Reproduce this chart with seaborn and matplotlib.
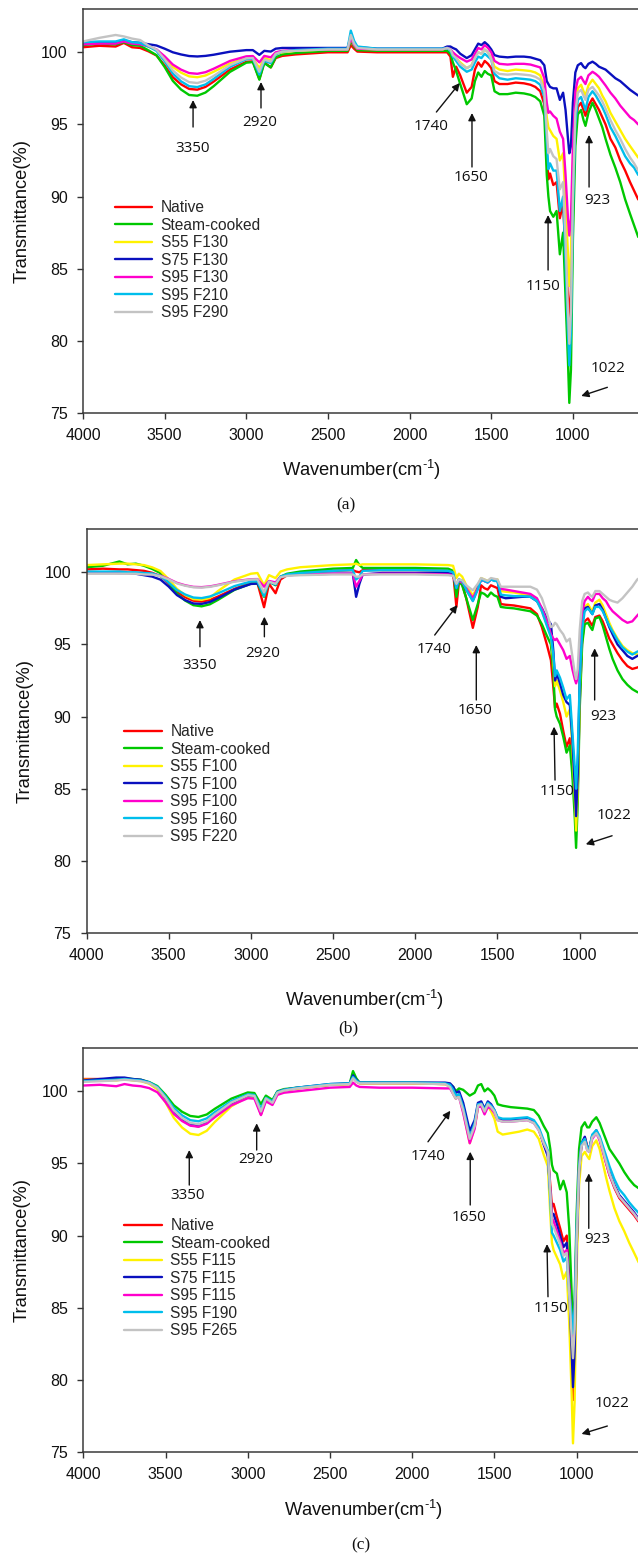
import matplotlib
matplotlib.use("Agg")
import matplotlib.pyplot as plt
import seaborn as sns

sns.set_style("ticks")
plt.rcParams['font.family'] = ['Liberation Sans', 'DejaVu Sans']
plt.rcParams['mathtext.default'] = 'regular'

# ---------------- data (wavenumber grid, cm-1) ----------------
wavenumber = [4000, 3900, 3800, 3750, 3700, 3650,
              3600, 3550, 3500, 3450, 3400, 3350, 3300, 3250, 3200, 3100, 3000, 2960,
              2920, 2890, 2850, 2820, 2780, 2700, 2500,
              2380, 2360, 2340, 2320, 2200, 2000, 1800,
              1770, 1750, 1735, 1715, 1690, 1650, 1620, 1600, 1580, 1560, 1540, 1520, 1500,
              1480, 1450, 1400, 1350, 1300, 1260, 1230, 1200,
              1175, 1160, 1150, 1140, 1120, 1100, 1080, 1060, 1045, 1030, 1022, 1012, 1000,
              985, 970, 950, 935, 923, 905, 880,
              860, 840, 820, 800, 770, 740, 710, 680, 650, 625, 600]

# ---- panel (a) ----
a_native = [100.35, 100.45, 100.4, 100.65, 100.35, 100.3,
            100.07, 99.78, 99.09, 98.27, 97.78, 97.46, 97.41, 97.6, 97.97, 98.8, 99.34, 99.37,
            98.15, 99.3, 98.95, 99.6, 99.75, 99.85, 100.0,
            100.0, 100.5, 100.25, 100.05, 100.0, 100.0, 100.0,
            100.0, 99.7, 98.3, 99.0, 98.4, 97.2, 97.6, 98.8, 99.3, 99.0, 99.4, 99.2, 98.9,
            98.0, 97.8, 97.8, 97.9, 97.85, 97.75, 97.6, 97.3,
            96.4, 93.0, 91.2, 91.6, 90.8, 91.0, 88.5, 89.5, 86.0, 83.0, 81.5, 83.5, 90.0,
            94.5, 96.2, 96.5, 96.0, 95.6, 96.3, 96.8,
            96.4, 96.0, 95.5, 95.0, 94.0, 93.4, 92.5, 91.8, 91.0, 90.4, 89.8]
a_steam = [100.5, 100.6, 100.55, 100.7, 100.5, 100.45,
           100.14, 99.8, 98.98, 98.02, 97.42, 97.04, 96.99, 97.21, 97.65, 98.64, 99.28, 99.32,
           98.1, 99.25, 98.95, 99.65, 99.85, 99.95, 100.1,
           100.1, 100.8, 100.4, 100.15, 100.1, 100.1, 100.1,
           100.1, 99.9, 99.3, 98.7, 97.8, 96.4, 96.8, 98.0, 98.6, 98.3, 98.7, 98.5, 98.4,
           97.3, 97.1, 97.1, 97.2, 97.15, 97.05, 96.9, 96.6,
           95.6, 91.5, 90.0, 89.0, 88.6, 89.0, 86.0, 87.5, 83.0, 78.5, 75.7, 78.0, 87.0,
           93.5, 95.7, 96.0, 95.3, 94.9, 95.8, 96.5,
           96.0, 95.4, 94.8, 94.0, 92.9, 92.0, 91.0, 89.8, 88.8, 88.0, 87.2]
a_s55 = [100.6, 100.7, 100.7, 100.85, 100.65, 100.6,
         100.4, 100.16, 99.62, 98.99, 98.59, 98.33, 98.27, 98.39, 98.65, 99.23, 99.59, 99.6,
         98.9, 99.6, 99.45, 99.9, 100.0, 100.1, 100.2,
         100.2, 101.0, 100.5, 100.25, 100.2, 100.2, 100.2,
         100.3, 100.2, 99.9, 99.6, 99.3, 98.9, 99.1, 99.7, 100.0, 99.9, 100.2, 100.0, 99.6,
         99.0, 98.8, 98.7, 98.8, 98.75, 98.7, 98.6, 98.4,
         97.6, 95.5, 94.8, 94.6, 94.2, 94.0, 92.5, 93.0, 89.5, 86.0, 83.8, 86.0, 92.0,
         96.0, 97.5, 97.75, 97.3, 97.0, 97.7, 98.1,
         97.8, 97.5, 97.0, 96.6, 95.8, 95.2, 94.6, 94.0, 93.5, 93.1, 92.7]
a_s75 = [100.6, 100.65, 100.7, 100.8, 100.7, 100.65,
         100.56, 100.47, 100.25, 100.0, 99.85, 99.74, 99.71, 99.75, 99.83, 100.04, 100.15, 100.15,
         99.82, 100.1, 100.05, 100.25, 100.3, 100.3, 100.3,
         100.3, 101.1, 100.6, 100.35, 100.25, 100.25, 100.25,
         100.4, 100.4, 100.3, 100.2, 99.9, 99.6, 99.8, 100.2, 100.6, 100.5, 100.7, 100.5, 100.2,
         99.8, 99.7, 99.65, 99.7, 99.7, 99.65, 99.55, 99.45,
         99.1, 98.0, 97.8, 97.6, 97.5, 97.5, 96.7, 97.2, 96.0, 94.0, 93.0, 93.5, 96.5,
         98.6, 99.1, 99.25, 99.0, 98.9, 99.2, 99.35,
         99.2, 99.0, 98.9, 98.8, 98.5, 98.2, 98.0, 97.7, 97.4, 97.2, 97.0]
a_s95 = [100.55, 100.6, 100.6, 100.75, 100.6, 100.55,
         100.41, 100.2, 99.72, 99.15, 98.8, 98.56, 98.51, 98.62, 98.86, 99.4, 99.72, 99.74,
         99.3, 99.75, 99.65, 100.0, 100.1, 100.15, 100.2,
         100.2, 101.0, 100.5, 100.25, 100.2, 100.2, 100.2,
         100.3, 100.2, 100.0, 99.8, 99.6, 99.35, 99.5, 99.9, 100.3, 100.2, 100.5, 100.3, 100.0,
         99.4, 99.2, 99.15, 99.2, 99.2, 99.15, 99.05, 98.95,
         98.2, 96.5, 95.8, 95.9, 95.6, 95.4, 94.5, 94.0, 91.5, 88.5, 87.3, 88.5, 93.5,
         97.3, 98.1, 98.3, 98.0, 97.8, 98.4, 98.65,
         98.5, 98.3, 98.0, 97.7, 97.2, 96.8, 96.3, 95.9, 95.5, 95.3, 95.0]
a_s95_mid = [100.7, 100.75, 100.75, 100.9, 100.7, 100.65,
             100.41, 100.1, 99.38, 98.52, 97.99, 97.65, 97.59, 97.77, 98.15, 98.99, 99.52, 99.55,
             98.45, 99.4, 99.25, 99.85, 100.05, 100.15, 100.25,
             100.25, 101.5, 100.8, 100.4, 100.25, 100.25, 100.25,
             100.3, 100.1, 99.7, 99.4, 99.0, 98.65, 98.8, 99.3, 99.7, 99.6, 99.9, 99.7, 99.5,
             98.5, 98.2, 98.1, 98.2, 98.15, 98.1, 98.0, 97.75,
             96.9, 93.8, 91.9, 92.3, 91.8, 91.8, 89.0, 90.0, 85.5, 80.5, 78.3, 80.5, 89.0,
             95.0, 96.7, 96.9, 96.4, 96.0, 96.9, 97.3,
             97.0, 96.6, 96.2, 95.7, 94.8, 94.2, 93.5, 92.8, 92.3, 92.0, 91.5]
a_s95_high = [100.75, 101.0, 101.2, 101.1, 100.95, 100.85,
              100.47, 100.18, 99.52, 98.74, 98.25, 97.93, 97.87, 98.03, 98.36, 99.11, 99.58, 99.6,
              98.65, 99.5, 99.35, 99.9, 100.05, 100.1, 100.2,
              100.2, 101.2, 100.6, 100.3, 100.2, 100.2, 100.2,
              100.3, 100.2, 99.8, 99.6, 99.2, 98.9, 99.1, 99.6, 100.0, 99.9, 100.2, 100.0, 99.5,
              98.7, 98.5, 98.45, 98.5, 98.45, 98.4, 98.3, 98.1,
              97.3, 94.5, 93.0, 93.3, 92.8, 92.6, 90.5, 91.0, 87.0, 82.0, 79.8, 82.0, 90.0,
              95.8, 97.2, 97.4, 97.0, 96.7, 97.4, 97.6,
              97.3, 97.0, 96.6, 96.1, 95.3, 94.6, 94.0, 93.3, 92.7, 92.3, 91.8]

# ---- panel (b) ----
b_native = [100.2, 100.25, 100.2, 100.2, 100.15, 100.1,
            99.96, 99.73, 99.23, 98.64, 98.27, 98.03, 97.97, 98.08, 98.32, 98.85, 99.3, 99.25,
            97.58, 99.2, 98.55, 99.5, 99.8, 99.95, 100.1,
            100.15, 100.05, 100.0, 100.15, 100.15, 100.15, 100.1,
            100.0, 97.6, 99.3, 99.2, 98.2, 96.15, 97.6, 99.1, 98.9, 98.8, 99.1, 99.0, 98.9,
            97.8, 97.75, 97.7, 97.6, 97.5, 97.1, 96.2, 95.0,
            93.9, 92.0, 90.6, 90.9, 90.2, 89.0, 87.9, 88.5, 86.5, 84.0, 82.6, 85.0, 91.0,
            95.3, 96.6, 96.8, 96.5, 96.3, 96.9, 97.0,
            96.6, 96.0, 95.4, 95.0, 94.4, 93.9, 93.5, 93.3, 93.4, 93.5, 93.6]
b_steam = [100.35, 100.45, 100.75, 100.55, 100.6, 100.45,
           100.23, 99.94, 99.29, 98.52, 98.04, 97.72, 97.64, 97.78, 98.09, 98.78, 99.21, 99.22,
           98.3, 99.35, 99.1, 99.7, 99.9, 100.05, 100.25,
           100.3, 100.85, 100.5, 100.3, 100.3, 100.3, 100.25,
           100.1, 98.3, 99.4, 99.1, 98.2, 96.7, 97.8, 98.6, 98.5, 98.3, 98.6, 98.4, 98.3,
           97.6, 97.55, 97.5, 97.4, 97.3, 97.0, 96.4, 95.6,
           95.0, 93.0, 90.5, 90.0, 89.5, 88.6, 87.5, 88.0, 86.0, 83.0, 80.9, 84.0, 90.5,
           95.0, 96.4, 96.5, 96.2, 96.0, 96.8, 96.9,
           96.3, 95.5, 94.7, 94.0, 93.2, 92.6, 92.2, 91.9, 91.7, 91.6, 91.5]
b_s55 = [100.5, 100.55, 100.6, 100.6, 100.55, 100.5,
         100.34, 100.09, 99.52, 98.85, 98.42, 98.14, 98.09, 98.22, 98.7, 99.5, 99.9, 99.95,
         99.1, 99.8, 99.6, 100.05, 100.2, 100.35, 100.5,
         100.55, 100.6, 100.5, 100.55, 100.55, 100.55, 100.5,
         100.45, 99.6, 99.9, 99.7, 99.1, 98.4, 99.0, 99.6, 99.5, 99.4, 99.55, 99.5, 99.5,
         98.7, 98.65, 98.6, 98.5, 98.4, 98.1, 97.3, 96.4,
         95.6, 93.8, 92.1, 92.5, 91.8, 91.0, 90.0, 90.5, 88.0, 84.5, 82.1, 85.0, 92.0,
         96.3, 97.6, 97.8, 97.5, 97.3, 97.9, 98.1,
         97.7, 97.1, 96.5, 96.0, 95.4, 94.9, 94.6, 94.4, 94.3, 94.3, 94.3]
b_s75 = [100.0, 100.0, 99.95, 99.95, 99.9, 99.8,
         99.7, 99.49, 99.01, 98.42, 98.07, 97.84, 97.81, 97.94, 98.21, 98.8, 99.19, 99.22,
         98.55, 99.35, 99.15, 99.65, 99.8, 99.85, 99.9,
         99.9, 98.3, 99.2, 99.85, 99.95, 99.95, 99.95,
         99.85, 98.9, 99.5, 99.4, 98.8, 98.05, 98.9, 99.5, 99.4, 99.3, 99.5, 99.45, 99.4,
         98.3, 98.2, 98.25, 98.3, 98.3, 98.0, 97.5, 96.8,
         96.4, 94.5, 92.5, 93.0, 92.3, 91.5, 91.0, 90.8, 88.5, 85.2, 83.1, 86.0, 92.5,
         96.5, 97.5, 97.6, 97.3, 97.1, 97.7, 97.8,
         97.4, 96.8, 96.2, 95.7, 95.0, 94.6, 94.2, 94.0, 94.2, 94.3, 94.4]
b_s95 = [99.95, 99.95, 99.95, 99.95, 99.95, 99.9,
         99.88, 99.77, 99.54, 99.27, 99.1, 98.99, 98.97, 99.02, 99.13, 99.38, 99.52, 99.53,
         99.0, 99.4, 99.3, 99.7, 99.8, 99.85, 99.9,
         99.9, 99.0, 99.4, 99.85, 99.9, 99.9, 99.85,
         99.8, 99.0, 99.4, 99.3, 98.9, 98.2, 98.9, 99.5, 99.4, 99.3, 99.5, 99.45, 99.4,
         98.85, 98.8, 98.7, 98.6, 98.5, 98.2, 97.5, 96.6,
         95.7, 95.4, 95.3, 95.4, 95.0, 94.6, 94.0, 94.2, 93.3, 92.6, 92.3, 92.7, 94.8,
         97.2, 98.0, 98.3, 98.1, 98.0, 98.5, 98.5,
         98.2, 98.0, 97.6, 97.3, 97.0, 96.7, 96.5, 96.6, 97.0, 97.3, 97.5]
b_s95_mid = [100.05, 100.05, 100.05, 100.0, 100.0, 99.95,
             99.92, 99.73, 99.29, 98.77, 98.46, 98.25, 98.21, 98.32, 98.54, 99.04, 99.36, 99.37,
             98.35, 99.35, 99.15, 99.7, 99.85, 99.95, 100.1,
             100.15, 99.5, 99.7, 100.1, 100.15, 100.15, 100.1,
             100.0, 98.9, 99.5, 99.4, 98.8, 98.0, 98.8, 99.5, 99.4, 99.3, 99.5, 99.4, 99.4,
             98.45, 98.4, 98.35, 98.35, 98.3, 98.0, 97.3, 96.3,
             95.5, 94.2, 92.8, 93.2, 92.7, 92.0, 91.2, 91.5, 89.0, 86.5, 85.0, 87.5, 92.5,
             96.0, 97.3, 97.5, 97.3, 97.1, 97.6, 97.6,
             97.3, 96.8, 96.3, 95.9, 95.3, 94.8, 94.5, 94.3, 94.5, 94.6, 94.7]
b_s95_high = [99.9, 99.9, 99.9, 99.9, 99.9, 99.85,
              99.84, 99.73, 99.51, 99.23, 99.07, 98.96, 98.94, 98.99, 99.1, 99.35, 99.5, 99.51,
              98.6, 99.35, 99.2, 99.65, 99.75, 99.8, 99.85,
              99.85, 99.7, 99.7, 99.85, 99.85, 99.85, 99.8,
              99.75, 99.2, 99.5, 99.45, 99.1, 98.75, 99.2, 99.6, 99.5, 99.4, 99.6, 99.55, 99.5,
              99.0, 99.0, 99.0, 99.0, 99.0, 98.8, 98.2, 97.2,
              96.2, 96.3, 96.5, 96.4, 96.0, 95.7, 95.2, 95.4, 94.2, 93.0, 92.6, 93.3, 96.0,
              98.0, 98.5, 98.6, 98.4, 98.3, 98.7, 98.7,
              98.5, 98.3, 98.1, 98.0, 97.9, 98.2, 98.6, 99.0, 99.5, 99.7, 99.8]

# ---- panel (c) ----
c_native = [100.85, 100.85, 100.8, 100.85, 100.8, 100.75,
            100.56, 100.22, 99.47, 98.58, 98.02, 97.66, 97.57, 97.8, 98.3, 99.17, 99.7, 99.66,
            98.4, 99.45, 99.2, 99.9, 100.05, 100.2, 100.45,
            100.5, 101.0, 100.7, 100.55, 100.55, 100.55, 100.5,
            100.4, 100.0, 99.6, 99.8, 98.8, 96.6, 97.6, 99.0, 99.1, 98.6, 99.1, 98.9, 98.6,
            98.1, 98.0, 98.0, 98.05, 98.1, 97.9, 97.4, 96.4,
            95.7, 93.5, 92.0, 92.2, 91.3, 90.5, 89.6, 90.0, 87.0, 82.0, 78.6, 81.5, 89.0,
            94.5, 96.3, 96.8, 96.2, 96.0, 96.9, 97.2,
            96.7, 95.9, 95.0, 94.2, 93.3, 92.6, 92.2, 91.8, 91.4, 91.0, 90.7]
c_steam = [100.75, 100.8, 100.85, 100.9, 100.85, 100.8,
           100.64, 100.36, 99.75, 99.03, 98.58, 98.29, 98.22, 98.39, 98.79, 99.49, 99.92, 99.88,
           99.1, 99.7, 99.4, 100.0, 100.15, 100.25, 100.45,
           100.55, 101.4, 100.9, 100.6, 100.6, 100.6, 100.55,
           100.5, 100.3, 100.0, 100.2, 100.1, 99.7, 99.9, 100.4, 100.5, 100.0, 100.2, 100.0, 99.7,
           99.1, 99.0, 98.9, 98.85, 98.8, 98.7, 98.3, 97.6,
           97.1, 96.0, 94.9, 94.5, 94.3, 93.2, 93.8, 93.0, 90.5, 86.0, 83.8, 85.5, 91.5,
           96.0, 97.5, 97.85, 97.5, 97.5, 97.9, 98.2,
           97.8, 97.2, 96.6, 96.0, 95.5, 95.0, 94.4, 93.9, 93.5, 93.3, 93.1]
c_s55 = [100.8, 100.8, 100.75, 100.85, 100.75, 100.7,
         100.53, 100.13, 99.23, 98.16, 97.49, 97.06, 96.97, 97.26, 97.88, 98.96, 99.63, 99.59,
         98.55, 99.5, 99.25, 99.9, 100.1, 100.2, 100.45,
         100.5, 100.95, 100.7, 100.55, 100.55, 100.55, 100.5,
         100.3, 99.8, 99.5, 99.7, 98.6, 96.4, 97.5, 98.9, 99.0, 98.5, 99.0, 98.6, 98.1,
         97.2, 97.0, 97.1, 97.2, 97.35, 97.2, 96.7, 95.6,
         94.8, 91.5, 89.5, 89.0, 88.5, 88.0, 87.0, 87.5, 84.0, 79.0, 75.6, 78.5, 87.5,
         93.5, 95.5, 95.8, 95.5, 95.3, 96.2, 96.6,
         96.0, 95.0, 94.0, 93.1, 91.9, 91.0, 90.3, 89.5, 88.8, 88.2, 87.7]
c_s75 = [100.75, 100.85, 100.95, 100.95, 100.85, 100.8,
         100.61, 100.27, 99.51, 98.62, 98.06, 97.69, 97.6, 97.82, 98.32, 99.19, 99.71, 99.66,
         98.55, 99.5, 99.25, 99.95, 100.1, 100.25, 100.5,
         100.55, 101.1, 100.8, 100.6, 100.6, 100.6, 100.6,
         100.55, 100.3, 99.9, 100.0, 99.2, 97.25, 98.0, 99.2, 99.3, 98.8, 99.3, 99.1, 98.7,
         98.1, 98.0, 98.0, 98.05, 98.1, 97.9, 97.4, 96.3,
         95.5, 93.0, 91.5, 91.5, 90.8, 90.0, 89.2, 89.5, 86.5, 82.0, 79.5, 82.0, 89.0,
         94.5, 96.4, 96.85, 96.1, 96.0, 96.9, 97.3,
         96.8, 96.0, 95.2, 94.4, 93.5, 92.8, 92.4, 92.0, 91.6, 91.2, 91.0]
c_s95 = [100.4, 100.45, 100.35, 100.5, 100.4, 100.35,
         100.22, 99.93, 99.24, 98.43, 97.94, 97.62, 97.54, 97.75, 98.21, 99.03, 99.52, 99.49,
         98.35, 99.3, 99.05, 99.75, 99.9, 100.0, 100.25,
         100.3, 100.6, 100.4, 100.3, 100.25, 100.25, 100.2,
         100.2, 99.8, 99.5, 99.6, 98.5, 96.4, 97.4, 98.9, 98.95, 98.4, 98.9, 98.8, 98.5,
         98.0, 97.9, 97.9, 97.95, 98.0, 97.8, 97.3, 96.4,
         95.8, 93.0, 91.2, 91.0, 90.3, 89.6, 88.8, 89.0, 86.5, 84.0, 82.5, 84.5, 90.0,
         94.8, 96.3, 96.6, 95.9, 95.8, 96.7, 97.1,
         96.6, 95.8, 95.0, 94.2, 93.4, 92.7, 92.3, 91.9, 91.5, 91.1, 90.8]
c_s95_mid = [100.7, 100.75, 100.8, 100.85, 100.8, 100.75,
             100.62, 100.31, 99.64, 98.84, 98.33, 98.0, 97.92, 98.12, 98.56, 99.32, 99.79, 99.75,
             98.8, 99.55, 99.3, 99.95, 100.1, 100.25, 100.5,
             100.55, 101.0, 100.75, 100.6, 100.6, 100.6, 100.55,
             100.45, 100.1, 99.7, 99.8, 98.9, 96.85, 97.8, 99.1, 99.15, 98.7, 99.2, 99.0, 98.7,
             98.2, 98.1, 98.1, 98.15, 98.2, 98.0, 97.5, 96.6,
             95.9, 92.5, 90.2, 90.0, 89.5, 89.0, 88.2, 88.5, 86.0, 84.5, 83.2, 85.0, 90.5,
             94.8, 96.4, 96.7, 96.1, 96.0, 97.0, 97.3,
             96.9, 96.2, 95.5, 94.8, 93.9, 93.2, 92.8, 92.3, 91.9, 91.6, 91.3]
c_s95_high = [100.65, 100.7, 100.75, 100.8, 100.75, 100.7,
              100.57, 100.24, 99.53, 98.68, 98.15, 97.81, 97.72, 97.93, 98.4, 99.22, 99.72, 99.68,
              98.6, 99.5, 99.2, 99.9, 100.05, 100.2, 100.45,
              100.5, 100.9, 100.65, 100.55, 100.55, 100.55, 100.5,
              100.3, 99.8, 99.5, 99.6, 98.7, 96.7, 97.6, 99.0, 99.1, 98.6, 99.1, 98.9, 98.6,
              98.0, 97.9, 97.9, 97.95, 98.0, 97.8, 97.3, 96.4,
              95.8, 93.0, 90.8, 90.6, 90.0, 89.4, 88.6, 88.8, 86.0, 83.0, 81.5, 83.5, 89.5,
              94.5, 96.2, 96.5, 95.9, 95.8, 96.8, 97.1,
              96.7, 95.9, 95.1, 94.3, 93.4, 92.7, 92.3, 91.9, 91.5, 91.1, 90.8]

labels_a = ["Native", "Steam-cooked", "S55 F130", "S75 F130", "S95 F130", "S95 F210", "S95 F290"]
labels_b = ["Native", "Steam-cooked", "S55 F100", "S75 F100", "S95 F100", "S95 F160", "S95 F220"]
labels_c = ["Native", "Steam-cooked", "S55 F115", "S75 F115", "S95 F115", "S95 F190", "S95 F265"]
series_a = [a_native, a_steam, a_s55, a_s75, a_s95, a_s95_mid, a_s95_high]
series_b = [b_native, b_steam, b_s55, b_s75, b_s95, b_s95_mid, b_s95_high]
series_c = [c_native, c_steam, c_s55, c_s75, c_s95, c_s95_mid, c_s95_high]

x_ticks = [4000, 3500, 3000, 2500, 2000, 1500, 1000]
y_ticks = [75, 80, 85, 90, 95, 100]
peak_labels = ["3350", "2920", "1740", "1650", "923", "1150", "1022"]

colors = ["#FF0000", "#00C800", "#FFF200", "#0A10BE", "#FF00CC", "#00BEEC", "#C3C3C3"]

# annotation geometry per panel: (text_xy, tail_xy, tip_xy) in (wavenumber, %T)
ann_a = [((3326, 93.3), (3326, 94.82), (3326, 96.69)),
         ((2916, 95.1), (2910, 96.14), (2910, 97.94)),
         ((1869, 94.89), (1836, 95.86), (1693, 97.87)),
         ((1622, 91.29), (1618, 92.05), (1618, 95.79)),
         ((851, 89.76), (901, 90.66), (901, 94.27)),
         ((1183, 83.75), (1152, 84.91), (1152, 88.72)),
         ((785, 78.1), (789, 76.78), (949, 76.18))]
ann_b = [((3310, 93.52), (3310, 94.84), (3310, 96.69)),
         ((2926, 94.38), (2918, 95.53), (2918, 96.92)),
         ((1886, 94.66), (1882, 95.65), (1744, 97.73)),
         ((1635, 90.41), (1629, 91.15), (1629, 94.96)),
         ((858, 89.99), (909, 91.15), (909, 94.73)),
         ((1138, 84.84), (1150, 85.6), (1156, 89.3)),
         ((791, 83.13), (803, 81.74), (963, 81.15))]
ann_c = [((3366, 92.76), (3356, 93.5), (3356, 95.93)),
         ((2950, 95.24), (2946, 95.93), (2946, 97.78)),
         ((1904, 95.51), (1904, 96.5), (1768, 98.65)),
         ((1655, 91.27), (1647, 92.12), (1647, 95.81)),
         ((874, 89.74), (926, 90.5), (926, 94.31)),
         ((1156, 84.96), (1174, 85.76), (1180, 89.41)),
         ((785, 78.33), (813, 76.8), (970, 76.25))]

# ---------------- figure ----------------
FW, FH = 638, 1555
fig = plt.figure(figsize=(FW / 100, FH / 100), dpi=100)
fig.patch.set_facecolor("white")


def add_axes_px(left, top, right, bottom):
    return fig.add_axes([left / FW, 1 - bottom / FH, (right - left) / FW, (bottom - top) / FH])


panels = [
    dict(box=(83, 9, 83 + 3600 * 0.1633, 413), series=series_a, labels=labels_a, ann=ann_a,
         leg=(0.054, 0.527), xl=(0.4746, -0.141), cap="(a)", cap_xy=(346, 505)),
    dict(box=(86.5, 529, 86.5 + 3600 * 0.1644, 933), series=series_b, labels=labels_b, ann=ann_b,
         leg=(0.064, 0.517), xl=(0.4706, -0.166), cap="(b)", cap_xy=(348, 1028)),
    dict(box=(83.4, 1048, 83.4 + 3600 * 0.1644, 1452), series=series_c, labels=labels_c, ann=ann_c,
         leg=(0.0694, 0.579), xl=(0.474, -0.1436), cap="(c)", cap_xy=(361, 1545)),
]

xlabel_text = "Wavenumber(cm$^{\u2010\\mathregular{1}}$)"

for p in panels:
    l, t, r, b = p["box"]
    ax = add_axes_px(l, t, r, b)
    for vals, lab, col in zip(p["series"], p["labels"], colors):
        sns.lineplot(x=wavenumber, y=vals, color=col, linewidth=1.7, label=lab,
                     ax=ax, sort=False, estimator=None)
    ax.set_xlim(4000, 400)
    ax.set_ylim(75, 103)
    ax.set_xticks(x_ticks)
    ax.set_yticks(y_ticks)
    ax.tick_params(axis="both", direction="out", length=4, width=1.0, pad=7,
                   labelsize=11.5, color="#333333", labelcolor="#111111")
    for sp in ax.spines.values():
        sp.set_color("#3a3a3a")
        sp.set_linewidth(1.1)

    ax.set_xlabel(xlabel_text, fontsize=13.2, color="#111111")
    ax.xaxis.label.set_va("center")
    ax.xaxis.set_label_coords(*p["xl"])
    ax.set_ylabel("Transmittance(%)", fontsize=13.2, color="#111111")
    ax.yaxis.label.set_va("center")
    ax.yaxis.set_label_coords(-61 / (r - l), 0.5)

    handles, labs = ax.get_legend_handles_labels()
    ax.legend(handles, labs, loc="upper left", bbox_to_anchor=p["leg"], frameon=False,
              fontsize=11.2, handlelength=2.4, handletextpad=0.55, labelspacing=0.16,
              borderaxespad=0, borderpad=0)

    for txt, (txy, tail, tip) in zip(peak_labels, p["ann"]):
        ax.annotate("", xy=tip, xytext=tail,
                    arrowprops=dict(arrowstyle="-|>", color="#111111", lw=1.0,
                                    mutation_scale=11, shrinkA=0, shrinkB=0), zorder=5)
        ax.text(txy[0], txy[1], txt, ha="center", va="center", fontsize=11,
                family=["Open Sans", "DejaVu Sans"], color="#111111", zorder=5)

    fig.text(p["cap_xy"][0] / FW, 1 - p["cap_xy"][1] / FH, p["cap"], ha="center", va="center",
             fontsize=12.5, family=["Liberation Serif", "DejaVu Serif"], color="#111111")

fig.savefig("out.png", dpi=100)
